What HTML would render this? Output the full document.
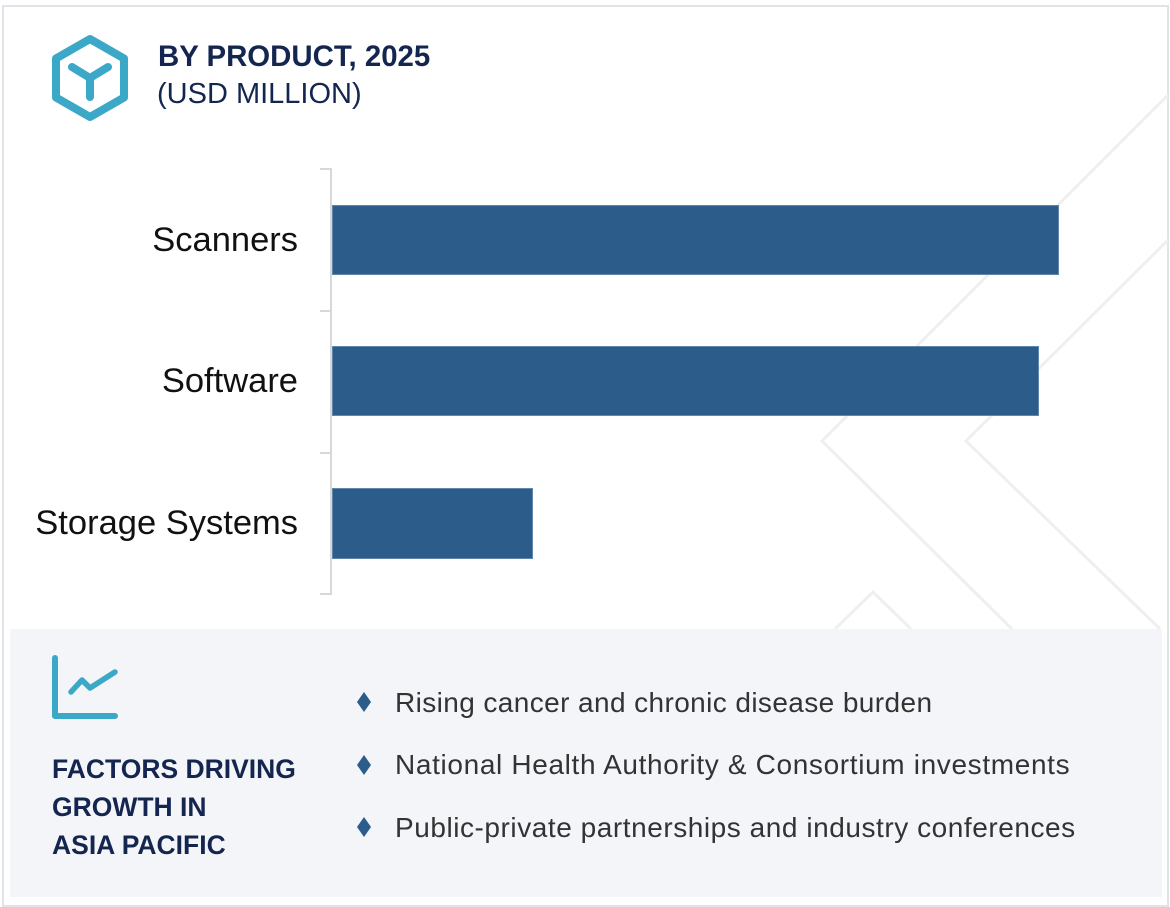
<!DOCTYPE html>
<html>
<head>
<meta charset="utf-8">
<style>
  html, body { margin:0; padding:0; background:#ffffff; }
  body { width:1170px; height:907px; overflow:hidden; }
  svg { display:block; }
  text { font-family: "Liberation Sans", Arial, sans-serif; }
</style>
</head>
<body>
<svg width="1170" height="907" viewBox="0 0 1170 907" xmlns="http://www.w3.org/2000/svg">
  <!-- outer frame -->
  <rect x="0" y="0" width="1170" height="907" fill="#ffffff"/>
  <rect x="3" y="6" width="1165" height="900" fill="#ffffff" stroke="#e2e3e8" stroke-width="2"/>

  <!-- faint background chevrons -->
  <g fill="none" stroke="#efefef" stroke-width="3">
    <polyline points="1168,95 822,441 1012,629"/>
    <polyline points="1168,240 966,441 1160,629"/>
    <polyline points="835,629 873,592 911,629"/>
  </g>

  <!-- header icon: hexagon with Y -->
  <g fill="none" stroke="#3ca8c7" stroke-linejoin="round" stroke-linecap="round">
    <polygon points="90,39 124,58.5 124,97.5 90,117 56,97.5 56,58.5" stroke-width="8"/>
    <polyline points="72,67 90,78 108,67" stroke-width="8"/>
    <line x1="90" y1="78" x2="90" y2="97" stroke-width="8"/>
  </g>

  <!-- title -->
  <text x="158" y="66" font-size="29.4" font-weight="bold" fill="#14264f">BY PRODUCT, 2025</text>
  <text x="157" y="103" font-size="29" fill="#14264f">(USD MILLION)</text>

  <!-- axis -->
  <g stroke="#d8d8d8" stroke-width="2" fill="none">
    <line x1="331" y1="168" x2="331" y2="595"/>
    <line x1="320" y1="169" x2="331" y2="169"/>
    <line x1="320" y1="311" x2="331" y2="311"/>
    <line x1="320" y1="453" x2="331" y2="453"/>
    <line x1="320" y1="594" x2="331" y2="594"/>
  </g>

  <!-- bars -->
  <g fill="#2c5d8a" stroke="#5f87ad" stroke-width="1">
    <rect x="332.5" y="205.5" width="726" height="69"/>
    <rect x="332.5" y="346.5" width="706" height="69"/>
    <rect x="332.5" y="488.5" width="200" height="70"/>
  </g>

  <!-- category labels -->
  <g font-size="34.5" fill="#111111" text-anchor="end">
    <text x="298" y="251">Scanners</text>
    <text x="298" y="392">Software</text>
    <text x="298" y="534">Storage Systems</text>
  </g>

  <!-- bottom panel -->
  <rect x="10" y="629" width="1152" height="268" fill="#f3f5f9"/>

  <!-- growth icon -->
  <g fill="none" stroke="#3ca8c7" stroke-linecap="round" stroke-linejoin="round">
    <polyline points="55,658 55,716 115,716" stroke-width="6"/>
    <polyline points="71,692 82,680 90,688 115,672" stroke-width="5.5"/>
  </g>

  <g font-size="26.5" font-weight="bold" fill="#14264f">
    <text x="52" y="778">FACTORS DRIVING</text>
    <text x="52" y="816">GROWTH IN</text>
    <text x="52" y="854">ASIA PACIFIC</text>
  </g>

  <!-- bullets -->
  <g fill="#2c5d8a">
    <polygon points="364,692 371,702 364,712 357,702"/>
    <polygon points="364,755 371,765 364,775 357,765"/>
    <polygon points="364,817 371,827 364,837 357,827"/>
  </g>
  <g font-size="28" fill="#333333">
    <text x="395" y="712" letter-spacing="0.4">Rising cancer and chronic disease burden</text>
    <text x="395" y="774" letter-spacing="0.65">National Health Authority &amp; Consortium investments</text>
    <text x="395" y="837" letter-spacing="0.55">Public-private partnerships and industry conferences</text>
  </g>
</svg>
</body>
</html>
